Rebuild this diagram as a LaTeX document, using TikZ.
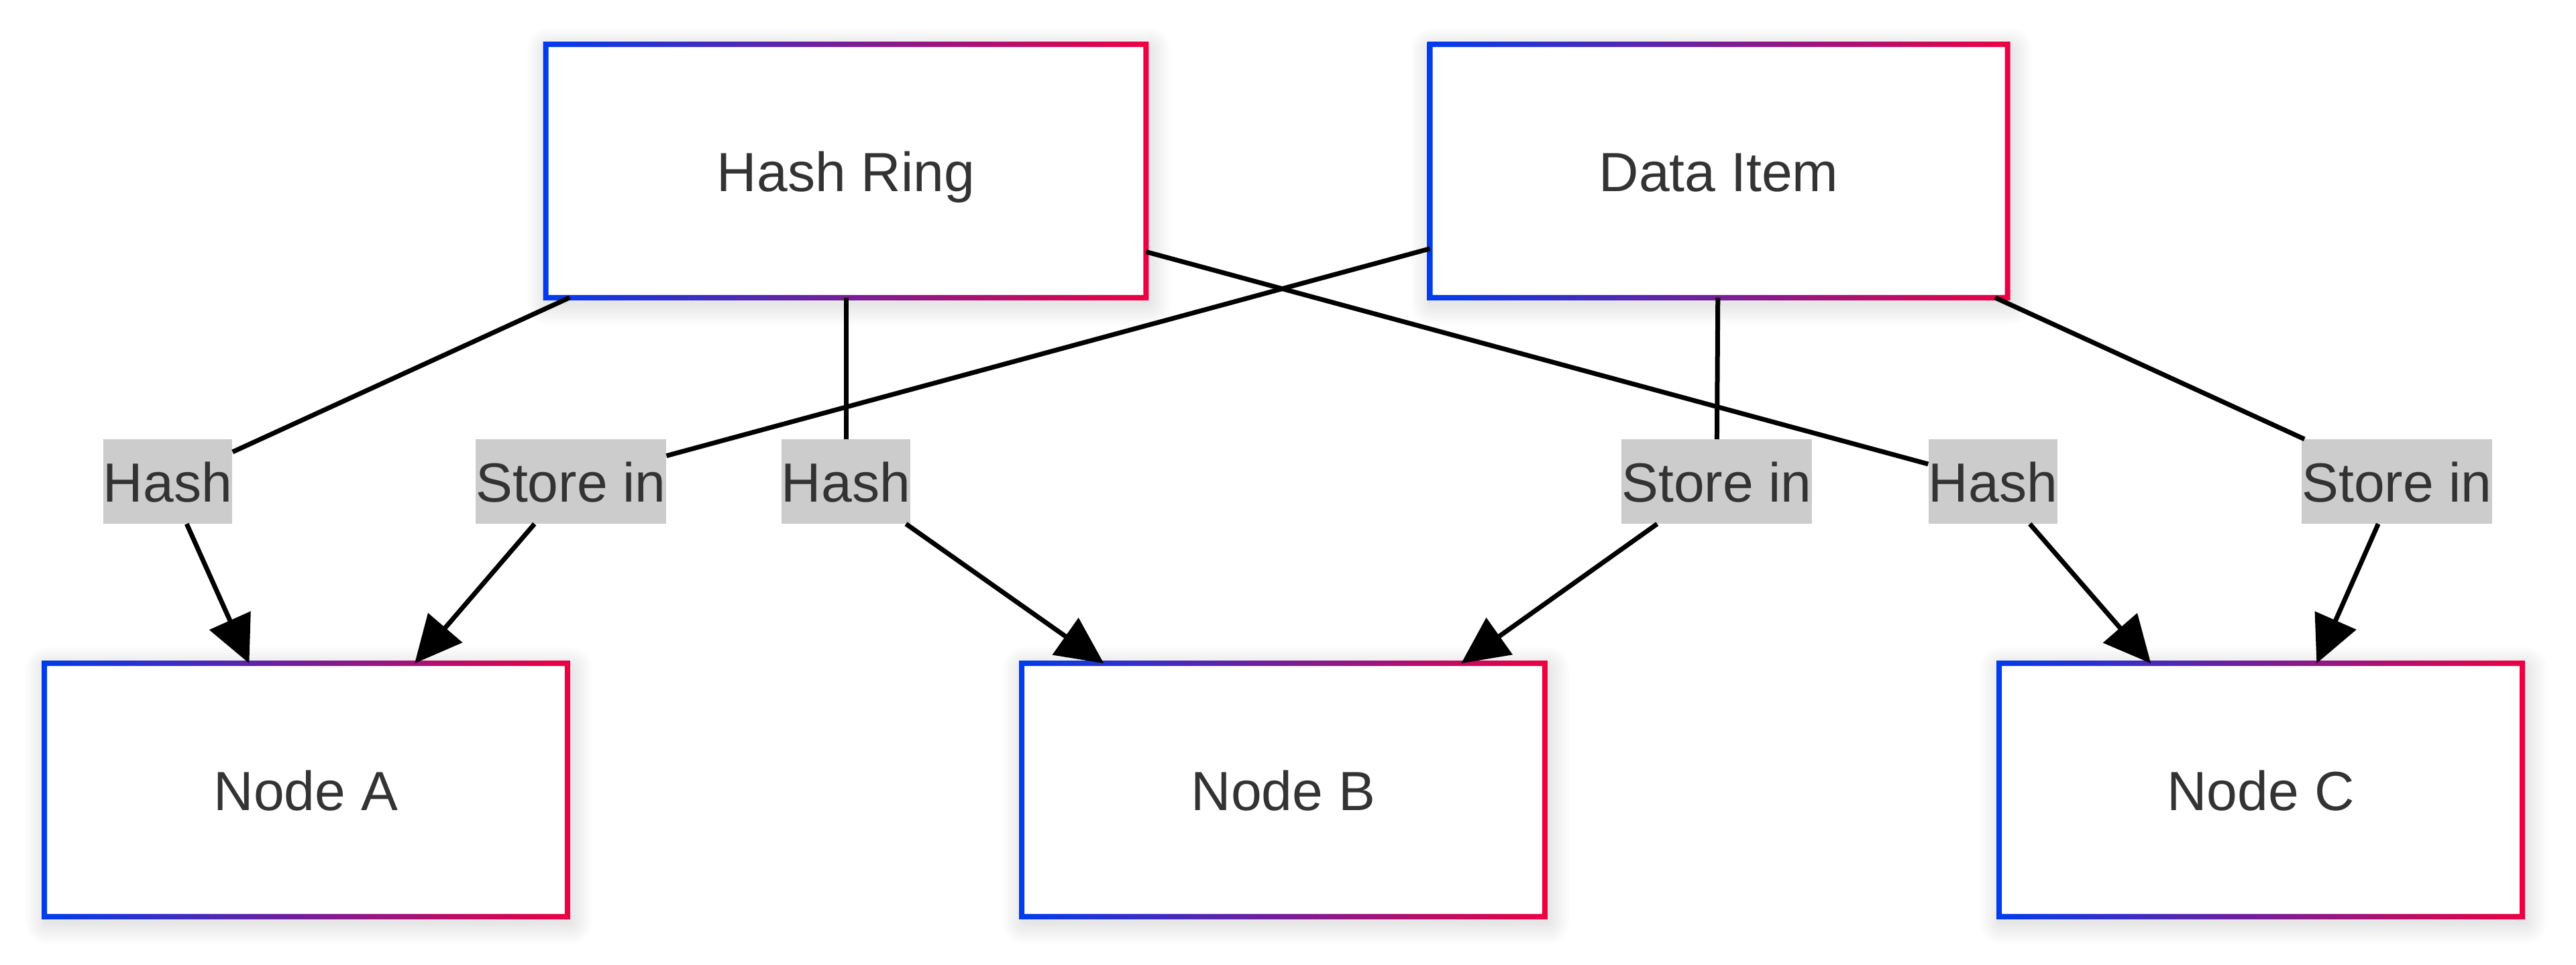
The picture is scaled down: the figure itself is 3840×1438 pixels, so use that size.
\documentclass[tikz,border=0pt]{standalone}
\usepackage{fontspec}
\setmainfont{Liberation Sans}
\usetikzlibrary{calc,arrows.meta,backgrounds}
\definecolor{frameblue}{RGB}{0,60,238}
\definecolor{framered}{RGB}{238,0,66}
\definecolor{labelgray}{RGB}{204,204,204}
\definecolor{textgray}{RGB}{51,51,51}
\tikzset{
  hashbox/.style={
    rectangle,fill=white,inner sep=0pt,
    minimum height=3.76cm,
    text=textgray,text height=0.9cm,text depth=0.3cm,
    font=\fontsize{23.4pt}{28pt}\selectfont
  },
  edgelabel/.style={
    rectangle,fill=labelgray,inner xsep=0pt,inner ysep=0pt,
    text=textgray,text height=0.93cm,text depth=0.32cm,
    font=\fontsize{23.4pt}{28pt}\selectfont
  },
  link/.style={line width=1.99pt,black},
  linkarrow/.style={link,-{Triangle[length=0.7cm,width=0.66cm]}}
}
\newcommand{\DrawGradFrame}[1]{%
  \shade[left color=frameblue,right color=framered,even odd rule]
    ($(#1.north west)+(-4,-4)$) rectangle ($(#1.south east)+(4,4)$)
    ($(#1.north west)+(4,4)$) rectangle ($(#1.south east)+(-4,-4)$);
}
\newcommand{\DrawBoxShadow}[1]{%
  \foreach \k in {1,...,8} {
    \fill[black,opacity=0.011,rounded corners=\k*0.04cm]
      ($(#1.north west)+(-\k*4+4,-\k*4+8)$)
      rectangle ($(#1.south east)+(\k*4+4,\k*4+8)$);
  }
}
\begin{document}
\begin{tikzpicture}[x=0.01cm,y=-0.01cm]
  \useasboundingbox (0,0) rectangle (3840,1438);

  % boxes
  \node[hashbox,minimum width=8.93cm] (ring) at (1261,255) {Hash Ring};
  \node[hashbox,minimum width=8.59cm] (item) at (2562,255) {Data Item};
  \node[hashbox,minimum width=7.78cm] (nodeA) at (456,1178) {Node A};
  \node[hashbox,minimum width=7.78cm] (nodeB) at (1913,1178) {Node B};
  \node[hashbox,minimum width=7.78cm] (nodeC) at (3370,1178) {Node C};
  \foreach \b in {ring,item,nodeA,nodeB,nodeC} {\DrawGradFrame{\b}}
  \begin{scope}[on background layer]
    \foreach \b in {ring,item,nodeA,nodeB,nodeC} {\DrawBoxShadow{\b}}
  \end{scope}

  % edge labels
  \node[edgelabel] (ringA) at (250,718) {Hash};
  \node[edgelabel] (ringB) at (1261,718) {Hash};
  \node[edgelabel] (ringC) at (2971,718) {Hash};
  \node[edgelabel] (itemA) at (851,718) {Store in};
  \node[edgelabel] (itemB) at (2559,718) {Store in};
  \node[edgelabel] (itemC) at (3573,718) {Store in};

  % links
  \draw[link] (ring) -- (ringA);
  \draw[linkarrow] (ringA) -- (nodeA);
  \draw[link] (ring) -- (ringB);
  \draw[linkarrow] (ringB) -- (nodeB);
  \draw[link] (ring) -- (ringC);
  \draw[linkarrow] (ringC) -- (nodeC);
  \draw[link] (item) -- (itemA);
  \draw[linkarrow] (itemA) -- (nodeA);
  \draw[link] (item) -- (itemB);
  \draw[linkarrow] (itemB) -- (nodeB);
  \draw[link] (item) -- (itemC);
  \draw[linkarrow] (itemC) -- (nodeC);
\end{tikzpicture}
\end{document}
